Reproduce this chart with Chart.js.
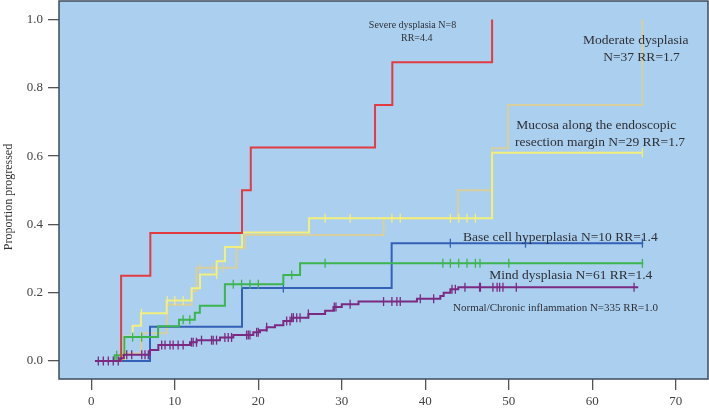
<!DOCTYPE html>
<html>
<head>
<meta charset="utf-8">
<script src="https://cdn.jsdelivr.net/npm/chart.js@4.4.1/dist/chart.umd.min.js"></script>
<style>
html,body{margin:0;padding:0;background:#fff;}
#c{display:block;}
</style>
</head>
<body>
<canvas id="c" width="709" height="410"></canvas>
<script>
// ---- tick labels ----
const xTicks = [0, 10, 20, 30, 40, 50, 60, 70];
const yTicks = [0, 0.2, 0.4, 0.6, 0.8, 1.0];

// ---- Severe dysplasia N=8 ----
const severeT = [1.0, 3.57, 7.07, 18.05, 19.1, 33.98, 36.05, 48.0];
const severeS = [0, 0.25, 0.375, 0.5, 0.625, 0.75, 0.875, 1.0];
const severeC = [];

// ---- Moderate dysplasia N=37 ----
const moderateT = [0.44, 3.8, 5.95, 9.03, 12.0, 12.6, 17.4, 18.4, 35.0, 43.9, 48.0, 49.9, 66.0];
const moderateS = [0, 0.022, 0.081, 0.165, 0.205, 0.273, 0.33, 0.369, 0.418, 0.5, 0.623, 0.75, 1.0];
const moderateC = [13.0, 14.5, 15.8];

// ---- Mucosa along the endoscopic resection margin N=29 ----
const mucosaT = [0.44, 3.96, 4.95, 5.95, 9.03, 12.02, 13.02, 15.01, 16.01, 18.05, 26.07, 48.0, 66.0];
const mucosaS = [0, 0.071, 0.103, 0.14, 0.177, 0.213, 0.253, 0.292, 0.334, 0.376, 0.418, 0.61, 0.61];
const mucosaC = [6.0, 9.1, 10.0, 11.0, 15.0, 28.0, 31.0, 36.0, 37.0, 43.0, 44.0, 45.0, 46.0, 66.0];

// ---- Base cell hyperplasia N=10 ----
const baseT = [0.44, 7.03, 18.05, 35.97, 66.1];
const baseS = [0, 0.1, 0.214, 0.345, 0.345];
const baseC = [23.0, 43.0, 52.0, 66.0];

// ---- Mind dysplasia N=61 ----
const mildT = [0.44, 2.8, 3.96, 8.0, 10.5, 12.4, 13.0, 16.0, 23.0, 25.0, 66.1];
const mildS = [0, 0.017, 0.07, 0.102, 0.121, 0.141, 0.162, 0.225, 0.252, 0.286, 0.286];
const mildC = [3.04, 4.95, 6.03, 11.0, 11.8, 17.0, 18.0, 19.0, 20.0, 24.0, 28.0, 42.1, 43.0, 44.0, 45.0, 46.0, 46.55, 50.0, 66.0];

// ---- Normal/Chronic inflammation N=335 ----
const normalT = [0.44, 3.45, 3.9, 7.03, 8.03, 11.82, 12.62, 15.41, 17.01, 19.4, 20.2, 21.0, 22.0, 23.0, 24.0, 26.0, 28.0, 29.0, 30.0, 32.0, 39.0, 41.8, 42.2, 43.0, 43.95, 65.5];
const normalS = [0, 0.008, 0.018, 0.032, 0.047, 0.055, 0.061, 0.069, 0.076, 0.084, 0.09, 0.099, 0.105, 0.117, 0.127, 0.138, 0.147, 0.158, 0.166, 0.174, 0.182, 0.19, 0.2, 0.21, 0.216, 0.216];
const normalC = [0.84, 1.44, 2.04, 2.63, 3.23, 4.24, 4.84, 6.04, 6.43, 6.83, 8.43, 8.83, 9.43, 9.8, 10.4, 11.0, 12.0, 12.2, 12.6, 13.2, 14.4, 14.6, 15.0, 16.0, 16.4, 16.8, 18.6, 18.8, 19.0, 19.8, 20.0, 21.0, 23.4, 23.8, 24.0, 24.2, 24.6, 25.0, 26.0, 29.1, 29.3, 31.0, 35.0, 36.0, 36.6, 37.0, 39.4, 41.0, 43.2, 43.6, 44.75, 46.5, 46.6, 48.1, 48.6, 48.9, 49.3, 50.9, 65.0];

// ---- annotation texts ----
const notes = [
  {text: 'Severe dysplasia N=8', x: 412.5, y: 25, size: 10},
  {text: 'RR=4.4', x: 416.7, y: 38, size: 10},
  {text: 'Moderate dysplasia', x: 635.7, y: 40, size: 13.5},
  {text: 'N=37 RR=1.7', x: 641.5, y: 57, size: 13.5},
  {text: 'Mucosa along the endoscopic', x: 596.2, y: 125, size: 13.5},
  {text: 'resection margin N=29 RR=1.7', x: 600, y: 142.3, size: 13.5},
  {text: 'Base cell hyperplasia N=10 RR=1.4', x: 560.3, y: 237.3, size: 13.5},
  {text: 'Mind dysplasia N=61 RR=1.4', x: 570.8, y: 275.7, size: 13.5},
  {text: 'Normal/Chronic inflammation N=335 RR=1.0', x: 555.5, y: 308.3, size: 11}
];

const SERIF = '"Liberation Serif", "DejaVu Serif", serif';

function pts(T, S) { return T.map((t, i) => ({x: t, y: S[i]})); }
function stepAt(T, S, t) {
  let v = S[0];
  for (let i = 0; i < T.length; i++) { if (T[i] <= t + 1e-9) v = S[i]; }
  return v;
}
function cens(T, S, C) { return C.map(t => ({x: t, y: stepAt(T, S, t)})); }

function lineDS(T, S, color) {
  return {data: pts(T, S), borderColor: color, borderWidth: 2, stepped: 'before',
    pointRadius: 0, fill: false, tension: 0};
}
function tickDS(T, S, C, color) {
  return {data: cens(T, S, C), borderColor: color, backgroundColor: color, showLine: false,
    pointStyle: 'line', rotation: 90, pointRadius: 4.5, pointBorderWidth: 1.3, pointHoverRadius: 0};
}

const cRed = '#e23b44', cPale = '#d8cf9e', cYel = '#f2ef7c', cBlue = '#3560b8', cGreen = '#3cb450', cPur = '#7b2a82';

const datasets = [
  lineDS(normalT, normalS, cPur), tickDS(normalT, normalS, normalC, cPur),
  lineDS(severeT, severeS, cRed),
  lineDS(mildT, mildS, cGreen), tickDS(mildT, mildS, mildC, cGreen),
  lineDS(baseT, baseS, cBlue), tickDS(baseT, baseS, baseC, cBlue),
  lineDS(mucosaT, mucosaS, cYel), tickDS(mucosaT, mucosaS, mucosaC, cYel),
  lineDS(moderateT, moderateS, cPale), tickDS(moderateT, moderateS, moderateC, cPale)
];

const deco = {
  id: 'deco',
  beforeDatasetsDraw(chart) {
    const a = chart.chartArea, ctx = chart.ctx;
    ctx.save();
    ctx.fillStyle = '#abcfee';
    ctx.fillRect(a.left, a.top, a.right - a.left, a.bottom - a.top);
    ctx.restore();
  },
  afterDraw(chart) {
    const a = chart.chartArea, ctx = chart.ctx;
    ctx.save();
    ctx.strokeStyle = '#3e4c5c';
    ctx.lineWidth = 1.5;
    ctx.strokeRect(a.left, a.top, a.right - a.left, a.bottom - a.top);
    ctx.fillStyle = '#2e3038';
    ctx.textAlign = 'center';
    ctx.textBaseline = 'middle';
    notes.forEach(n => {
      ctx.font = n.size + 'px ' + SERIF;
      ctx.fillText(n.text, n.x, n.y);
    });
    ctx.translate(8.5, 197);
    ctx.rotate(-Math.PI / 2);
    ctx.font = '12px ' + SERIF;
    ctx.fillStyle = '#333';
    ctx.fillText('Proportion progressed', 0, 0);
    ctx.restore();
  }
};

function noPad(s) { s.paddingTop = 0; s.paddingBottom = 0; s.paddingLeft = 0; s.paddingRight = 0; }

new Chart(document.getElementById('c'), {
  type: 'line',
  data: {datasets},
  options: {
    responsive: false,
    animation: false,
    devicePixelRatio: 1,
    layout: {autoPadding: false, padding: {top: 1, right: 1, left: 0, bottom: 0}},
    plugins: {legend: {display: false}, tooltip: {enabled: false}},
    events: [],
    scales: {
      x: {
        type: 'linear', min: -3.868, max: 73.856,
        afterBuildTicks(s) { s.ticks = xTicks.map(v => ({value: v})); },
        afterFit(s) { s.height = 31; noPad(s); },
        grid: {drawOnChartArea: false, drawTicks: true, tickLength: 11, color: '#555', lineWidth: 1.3},
        border: {display: false},
        ticks: {font: {family: SERIF, size: 13}, color: '#444', padding: 4, maxRotation: 0,
          callback: v => String(v)}
      },
      y: {
        type: 'linear', min: -0.0527, max: 1.0542,
        afterBuildTicks(s) { s.ticks = yTicks.map(v => ({value: v})); },
        afterFit(s) { s.width = 59; noPad(s); },
        grid: {drawOnChartArea: false, drawTicks: true, tickLength: 11, color: '#555', lineWidth: 1.3},
        border: {display: false},
        ticks: {font: {family: SERIF, size: 13}, color: '#444', padding: 5,
          callback: v => v.toFixed(1)}
      }
    }
  },
  plugins: [deco]
});
</script>
</body>
</html>
